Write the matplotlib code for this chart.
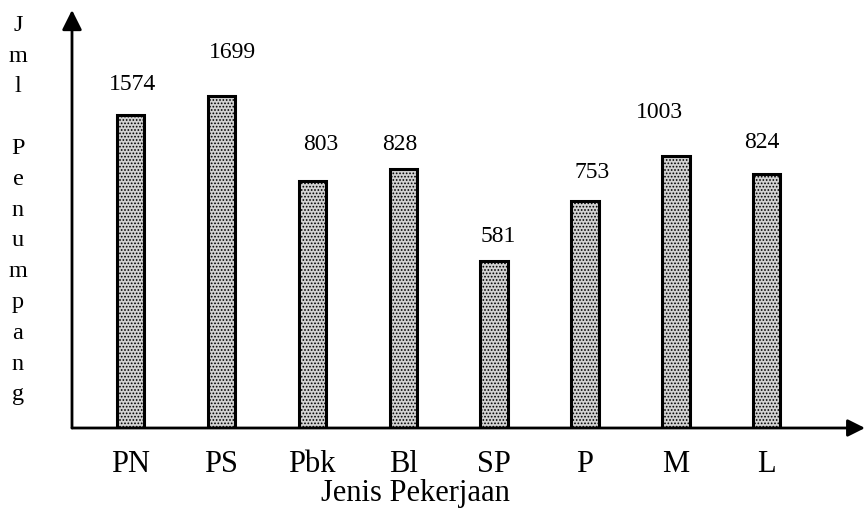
import matplotlib
matplotlib.use("Agg")
import matplotlib.pyplot as plt

# ---- data ----
categories = ["PN", "PS", "Pbk", "Bl", "SP", "P", "M", "L"]
value_labels = [1574, 1699, 803, 828, 581, 753, 1003, 824]
# drawn bar heights (the y axis carries no scale)
bar_heights = [313, 332, 247, 259, 167, 227, 272, 254]
y_label = "Jml Penumpang"
x_label = "Jenis Pekerjaan"

# label offsets (pixels) relative to bar top centre
label_dx = [2.5, 11, 8, -3.5, 4, 7, -16, -5]
label_dy = [31, 44, 36, 24, 25, 28, 44, 31]

W, H = 865, 514
DPI = 100
plt.rcParams['font.family'] = ['Liberation Serif', 'DejaVu Serif']
plt.rcParams['hatch.color'] = '#6a6a6a'
plt.rcParams['hatch.linewidth'] = 0.8

fig = plt.figure(figsize=(W / DPI, H / DPI), dpi=DPI)
fig.patch.set_facecolor('white')

# axes box in pixels: y axis at x=72, baseline at y=428, top at y=10, right at x=865
left_px, right_px, base_px, top_px = 72, 865, 428, 10
ax = fig.add_axes([left_px / W, 1 - base_px / H,
                   (right_px - left_px) / W, (base_px - top_px) / H])
ax.set_facecolor('none')

xs = list(range(len(categories)))
spacing = 90.9
first_center = 130.5
ax.set_xlim(-(first_center - left_px) / spacing,
            (right_px - first_center) / spacing)
ax.set_ylim(0, base_px - top_px)

ax.bar(xs, bar_heights, width=0.30, facecolor='#d2d2d2', edgecolor='black',
       linewidth=2.2, hatch='.....', zorder=3)

pt_per_px = 72 / DPI
for x, h, v, dx, dy in zip(xs, bar_heights, value_labels, label_dx, label_dy):
    ax.annotate(str(v), xy=(x, h), xytext=(dx * pt_per_px, dy * pt_per_px),
                textcoords='offset points', ha='center', va='center',
                fontsize=17, color='black')

for s in ax.spines.values():
    s.set_visible(False)
ax.set_yticks([])
ax.set_xticks(xs)
ax.set_xticklabels(categories, fontsize=22)
ax.tick_params(axis='x', length=0, pad=16)

# axes with arrowheads
ax.annotate('', xy=(1, 0), xytext=(0, 0), xycoords='axes fraction',
            textcoords='axes fraction',
            arrowprops=dict(arrowstyle='-|>', lw=2, color='black',
                            mutation_scale=26, shrinkA=0, shrinkB=0))
ax.annotate('', xy=(0, 1), xytext=(0, 0), xycoords='axes fraction',
            textcoords='axes fraction',
            arrowprops=dict(arrowstyle='-|>', lw=2, color='black',
                            mutation_scale=30, shrinkA=0, shrinkB=0))

# vertical stacked y label
first_baseline = 30.8
step = 30.8
for i, ch in enumerate(y_label):
    if ch == ' ':
        continue
    yb = first_baseline + i * step
    fig.text(18 / W, 1 - yb / H, ch, ha='center', va='baseline', fontsize=17.5)

fig.text(415 / W, 1 - 501 / H, x_label, ha='center', va='baseline', fontsize=22)

fig.savefig('out.png', dpi=DPI)
